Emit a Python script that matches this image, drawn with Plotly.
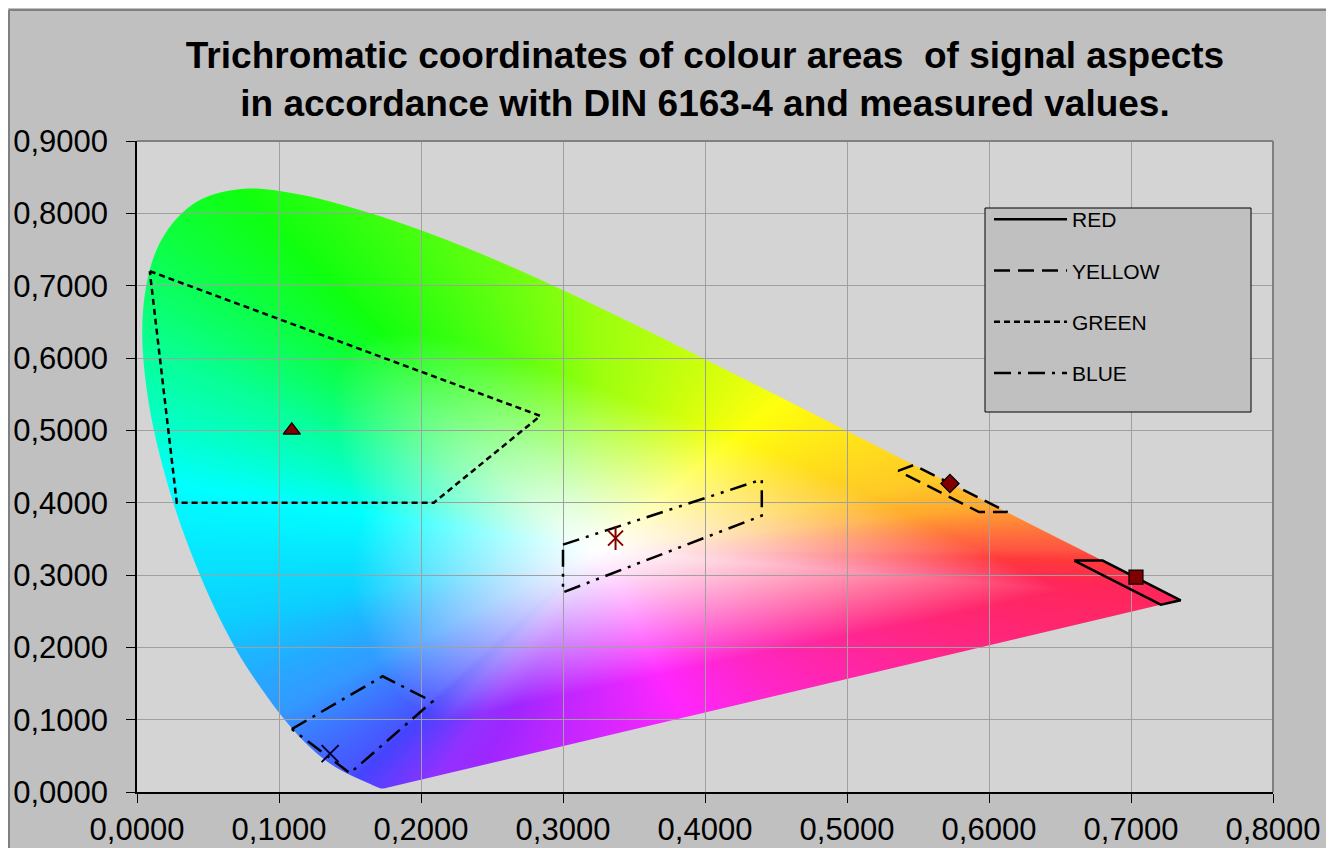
import base64
import struct
import zlib

import numpy as np
import plotly.graph_objects as go

# ---------------- data ----------------
# CIE 1931 2-degree spectral locus chromaticities, 380..700 nm, 5 nm steps
locus_x = [0.1741, 0.1740, 0.1738, 0.1736, 0.1733, 0.1730, 0.1726, 0.1721, 0.1714, 0.1703,
           0.1689, 0.1669, 0.1644, 0.1611, 0.1566, 0.1510, 0.1440, 0.1355, 0.1241, 0.1096,
           0.0913, 0.0687, 0.0454, 0.0235, 0.0082, 0.0039, 0.0139, 0.0389, 0.0743, 0.1142,
           0.1547, 0.1929, 0.2296, 0.2658, 0.3016, 0.3373, 0.3731, 0.4087, 0.4441, 0.4788,
           0.5125, 0.5448, 0.5752, 0.6029, 0.6270, 0.6482, 0.6658, 0.6801, 0.6915, 0.7006,
           0.7079, 0.7140, 0.7190, 0.7230, 0.7260, 0.7283, 0.7300, 0.7311, 0.7320, 0.7327,
           0.7334, 0.7340, 0.7344, 0.7346, 0.7347]
locus_y = [0.0050, 0.0050, 0.0049, 0.0049, 0.0048, 0.0048, 0.0048, 0.0048, 0.0051, 0.0058,
           0.0069, 0.0086, 0.0109, 0.0138, 0.0177, 0.0227, 0.0297, 0.0399, 0.0578, 0.0868,
           0.1327, 0.2007, 0.2950, 0.4127, 0.5384, 0.6548, 0.7502, 0.8120, 0.8338, 0.8262,
           0.8059, 0.7816, 0.7543, 0.7243, 0.6923, 0.6589, 0.6245, 0.5896, 0.5547, 0.5202,
           0.4866, 0.4544, 0.4242, 0.3965, 0.3725, 0.3514, 0.3340, 0.3197, 0.3083, 0.2993,
           0.2920, 0.2859, 0.2809, 0.2770, 0.2740, 0.2717, 0.2700, 0.2689, 0.2680, 0.2673,
           0.2666, 0.2660, 0.2656, 0.2654, 0.2653]

# colour areas (closed polygons)
red_x = [0.660, 0.680, 0.735, 0.721, 0.660]
red_y = [0.320, 0.320, 0.265, 0.259, 0.320]
yellow_x = [0.536, 0.547, 0.613, 0.593, 0.536]
yellow_y = [0.444, 0.452, 0.387, 0.387, 0.444]
green_x = [0.009, 0.284, 0.209, 0.028, 0.009]
green_y = [0.720, 0.520, 0.400, 0.400, 0.720]
blue_x = [0.109, 0.173, 0.208, 0.150, 0.109]
blue_y = [0.087, 0.160, 0.125, 0.026, 0.087]
white_x = [0.300, 0.440, 0.440, 0.300, 0.300]
white_y = [0.342, 0.432, 0.382, 0.276, 0.342]

# measured values
meas_red = (0.7035, 0.297)
meas_yellow = (0.5725, 0.4265)
meas_green = (0.109, 0.500)
meas_blue = (0.136, 0.053)
meas_white = (0.337, 0.351)

x_ticks = [0.0, 0.1, 0.2, 0.3, 0.4, 0.5, 0.6, 0.7, 0.8]
y_ticks = [0.0, 0.1, 0.2, 0.3, 0.4, 0.5, 0.6, 0.7, 0.8, 0.9]

# ---------------- chromaticity background image ----------------
# smooth boundary (Catmull-Rom through locus points, straight line of purples)
P = np.column_stack([locus_x, locus_y])
Pp = np.vstack([P[0], P, P[-1]])
pts = []
for i in range(1, len(Pp) - 2):
    p0, p1, p2, p3 = Pp[i - 1], Pp[i], Pp[i + 1], Pp[i + 2]
    for t in np.linspace(0, 1, 10, endpoint=False):
        t2, t3 = t * t, t * t * t
        pts.append(0.5 * ((2 * p1) + (-p0 + p2) * t + (2 * p0 - 5 * p1 + 4 * p2 - p3) * t2
                          + (-p0 + 3 * p1 - 3 * p2 + p3) * t3))
pts.append(P[-1])
for t in np.linspace(0, 1, 60, endpoint=False)[1:]:
    pts.append(P[-1] + (P[0] - P[-1]) * t)
pts.append(P[0])
bnd = np.array(pts)
lx, ly = bnd[:, 0], bnd[:, 1]

W, H = 1136, 651
X0, X1, Y0, Y1 = 0.0, 0.8, 0.0, 0.9
edges = np.linspace(X0, X1, W + 1)
pw = (X1 - X0) / W
cov = np.zeros((H, W))
SS = 4
a0, a1 = ly[:-1], ly[1:]
for r in range(H):
    for s in range(SS):
        yv = Y1 - (r + (s + 0.5) / SS) * (Y1 - Y0) / H
        m = ((a0 <= yv) & (a1 > yv)) | ((a1 <= yv) & (a0 > yv))
        if not m.any():
            continue
        t = (yv - a0[m]) / (a1[m] - a0[m])
        xc = np.sort(lx[:-1][m] + t * (lx[1:][m] - lx[:-1][m]))
        for a, b in zip(xc[0::2], xc[1::2]):
            lo = np.clip(a, edges[:-1], edges[1:])
            hi = np.clip(b, edges[:-1], edges[1:])
            cov[r] += (hi - lo) / pw / SS

cx = (edges[:-1] + edges[1:]) / 2
cy = Y1 - (np.arange(H) + 0.5) * (Y1 - Y0) / H
XX, YY = np.meshgrid(cx, cy)
WX, WY = 0.325, 0.335
ang_b = np.degrees(np.arctan2(ly - WY, lx - WX))
rad_b = np.hypot(lx - WX, ly - WY)
order = np.argsort(ang_b)
ang = np.degrees(np.arctan2(YY - WY, XX - WX))
dist = np.hypot(XX - WX, YY - WY)
rmax = np.interp(ang, ang_b[order], rad_b[order], period=360)
f = np.clip(dist / rmax, 0, 1)
a_shift = ((ang + 8) % 360) - 8
hue_ang = [-8, 0, 12, 22, 58, 90, 117, 139, 163, 200, 225, 240, 250, 263, 302, 352, 372]
hue_val = [-14, 6, 35, 45, 60, 85, 120, 155, 180, 192, 210, 235, 268, 282, 315, 346, 395]
hue = np.interp(a_shift, hue_ang, hue_val) % 360
smax_ang = [-8, 0, 12, 58, 117, 163, 200, 225, 240, 255, 302, 352, 372]
smax_val = [0.85, 0.74, 0.82, 0.95, 0.94, 1.0, 0.95, 0.8, 0.72, 0.85, 0.85, 0.85, 0.85]
smax = np.interp(a_shift, smax_ang, smax_val)
f0_ang = [-8, 58, 117, 163, 200, 240, 302, 352, 372]
f0_val = [0.8, 0.75, 0.6, 0.55, 0.65, 0.72, 0.75, 0.8, 0.8]
f0 = np.interp(a_shift, f0_ang, f0_val)
sat = smax * np.clip(f / f0, 0, 1) ** 1.2
c = sat
hp = hue / 60.0
xm = c * (1 - np.abs(hp % 2 - 1))
mm = 1 - c
zero = np.zeros_like(c)
idx = np.floor(hp).astype(int) % 6
rr = np.choose(idx, [c, xm, zero, zero, xm, c]) + mm
gg = np.choose(idx, [xm, c, c, xm, zero, zero]) + mm
bb = np.choose(idx, [zero, zero, xm, c, c, xm]) + mm
rgba = np.zeros((H, W, 4), dtype=np.uint8)
rgba[..., 0] = np.clip(rr * 255 + 0.5, 0, 255).astype(np.uint8)
rgba[..., 1] = np.clip(gg * 255 + 0.5, 0, 255).astype(np.uint8)
rgba[..., 2] = np.clip(bb * 255 + 0.5, 0, 255).astype(np.uint8)
rgba[..., 3] = np.clip(cov * 255 + 0.5, 0, 255).astype(np.uint8)


def to_png(arr):
    h, w, _ = arr.shape
    raw = b"".join(b"\x00" + arr[i].tobytes() for i in range(h))

    def chunk(tag, data):
        return (struct.pack(">I", len(data)) + tag + data
                + struct.pack(">I", zlib.crc32(tag + data) & 0xFFFFFFFF))

    return (b"\x89PNG\r\n\x1a\n"
            + chunk(b"IHDR", struct.pack(">IIBBBBB", w, h, 8, 6, 0, 0, 0))
            + chunk(b"IDAT", zlib.compress(raw, 9))
            + chunk(b"IEND", b""))


img_src = "data:image/png;base64," + base64.b64encode(to_png(rgba)).decode()

# ---------------- figure ----------------
FONT = "Liberation Sans, Arial, sans-serif"
fig = go.Figure()

areas = [
    ("RED", red_x, red_y, "solid", True),
    ("YELLOW", yellow_x, yellow_y, "16px,8px", True),
    ("GREEN", green_x, green_y, "6px,4px", True),
    ("BLUE", blue_x, blue_y, "17px,7px,3px,7px", True),
    ("WHITE", white_x, white_y, "17px,7px,3px,7px,3px,7px", False),
]
for name, xs, ys, dash, show in areas:
    fig.add_trace(go.Scatter(
        x=xs, y=ys, mode="lines", name=name, showlegend=show, legendgroup=name,
        line=dict(color="black", width=2.5, dash=dash), hoverinfo="skip"))

DARKRED = "#800000"
markers = [
    (meas_green, "triangle-up", 15, DARKRED, 1.2),
    (meas_yellow, "diamond", 14, DARKRED, 1.2),
    (meas_red, "square", 14, DARKRED, 1.2),
]
for (mx, my), sym, size, col, lw in markers:
    fig.add_trace(go.Scatter(
        x=[mx], y=[my], mode="markers", showlegend=False,
        marker=dict(symbol=sym, size=size, color=col, line=dict(color="black", width=lw))))

fig.add_trace(go.Scatter(
    x=[meas_blue[0]], y=[meas_blue[1]], mode="markers", showlegend=False,
    marker=dict(symbol="x-thin-open", size=17, color="#000030", line=dict(width=2))))
fig.add_trace(go.Scatter(
    x=[meas_white[0]], y=[meas_white[1]], mode="markers", showlegend=False,
    marker=dict(symbol="x-thin-open", size=15, color=DARKRED, line=dict(width=2))))
fig.add_trace(go.Scatter(
    x=[meas_white[0]], y=[meas_white[1]], mode="markers", showlegend=False,
    marker=dict(symbol="line-ns-open", size=17, color=DARKRED, line=dict(width=2))))

# figure sits 8px inside the page (body margin); coordinates below are page px
FW, FH = 1326, 840
L, T = 129, 133
PW, PH = 1136, 651
R_, B_ = FW - L - PW, FH - T - PH


def px(sx):
    return (sx - 8 - L) / PW


def py(sy):
    return (T + PH - (sy - 8)) / PH


shapes = [
    # legend box
    dict(type="rect", xref="paper", yref="paper", x0=px(985), x1=px(1251), y0=py(412), y1=py(208),
         fillcolor="#c0c0c0", line=dict(color="black", width=1), layer="above"),
    # plot area top/right border
    dict(type="line", xref="paper", yref="paper", x0=0, x1=1, y0=1, y1=1,
         line=dict(color="#808080", width=2), layer="above"),
    dict(type="line", xref="paper", yref="paper", x0=1, x1=1, y0=0, y1=1,
         line=dict(color="#808080", width=2), layer="above"),
    # chart frame
    dict(type="line", xref="paper", yref="paper", x0=px(9), x1=px(9), y0=py(900), y1=py(10),
         line=dict(color="#808080", width=2), layer="above"),
    dict(type="line", xref="paper", yref="paper", x0=px(9), x1=px(1400), y0=py(10), y1=py(10),
         line=dict(color="#808080", width=2), layer="above"),
]

fig.update_layout(
    width=FW, height=FH,
    margin=dict(l=L, r=R_, t=T, b=B_, autoexpand=False),
    paper_bgcolor="#c0c0c0",
    plot_bgcolor="#d4d4d4",
    separators=",.",
    font=dict(family=FONT, color="black"),
    title=dict(
        text="<b>Trichromatic coordinates of colour areas\u00a0 of signal aspects<br>"
             "in accordance with DIN 6163-4 and measured values.</b>",
        x=0.5, xref="paper", xanchor="center",
        y=1 - 60 / FH, yref="container", yanchor="middle",
        font=dict(size=37, family=FONT, color="black")),
    xaxis=dict(range=[0, 0.8], tickvals=x_ticks, tickformat=".4f", automargin=False,
               showgrid=True, gridcolor="#a0a0a0", gridwidth=1, zeroline=False,
               showline=True, linecolor="black", linewidth=1.5,
               ticks="outside", ticklen=9, tickcolor="black", tickwidth=1.2,
               ticklabelstandoff=0, tickfont=dict(size=31, family=FONT)),
    yaxis=dict(range=[0, 0.9], tickvals=y_ticks, tickformat=".4f", automargin=False,
               showgrid=True, gridcolor="#a0a0a0", gridwidth=1, zeroline=False,
               showline=True, linecolor="black", linewidth=1.5,
               ticks="outside", ticklen=9, tickcolor="black", tickwidth=1.2,
               ticklabelstandoff=12, tickfont=dict(size=31, family=FONT)),
    legend=dict(x=px(989), y=py(199), xanchor="left", yanchor="top",
                bgcolor="rgba(0,0,0,0)", borderwidth=0,
                font=dict(size=21, family=FONT, color="black"),
                itemwidth=73, tracegroupgap=21, traceorder="grouped"),
    images=[dict(source=img_src, xref="x", yref="y", x=0, y=0.9, sizex=0.8, sizey=0.9,
                 sizing="stretch", xanchor="left", yanchor="top", layer="below")],
    shapes=shapes,
    showlegend=True,
)

fig.write_html("out.html")
